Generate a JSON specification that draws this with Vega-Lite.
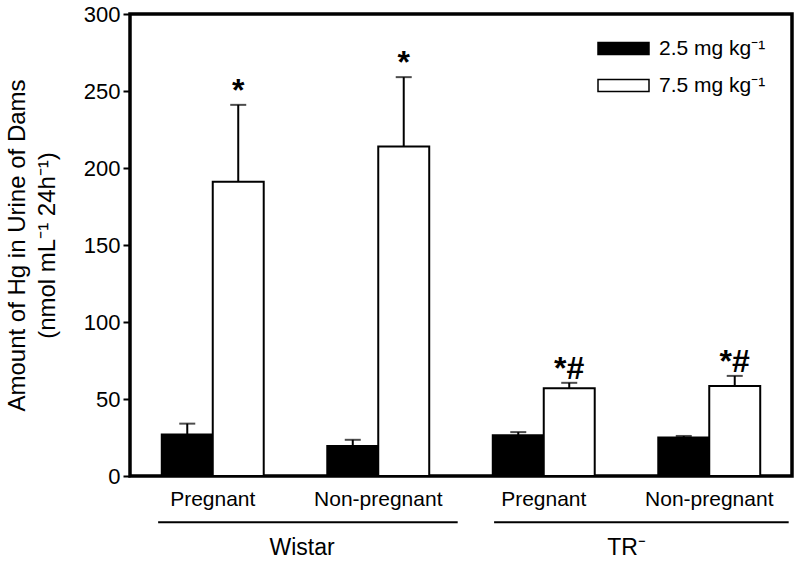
{
  "$schema": "https://vega.github.io/schema/vega-lite/v6.json",
  "autosize": {"type": "none"},
  "width": 662,
  "height": 462,
  "padding": {"left": 130, "top": 14, "right": 8, "bottom": 85},
  "background": "white",
  "config": {
    "font": "Liberation Sans",
    "view": {"stroke": "black", "strokeWidth": 3.5},
    "axis": {"grid": false, "labelColor": "black", "titleColor": "black", "domain": false}
  },
  "datasets": {
    "main": [
      {"group": "Wistar|Pregnant", "dose": "2.5 mg kg⁻¹", "value": 27, "err": 34, "sig": ""},
      {"group": "Wistar|Pregnant", "dose": "7.5 mg kg⁻¹", "value": 191, "err": 241, "sig": "*"},
      {"group": "Wistar|Non-pregnant", "dose": "2.5 mg kg⁻¹", "value": 19.5, "err": 23.5, "sig": ""},
      {"group": "Wistar|Non-pregnant", "dose": "7.5 mg kg⁻¹", "value": 214, "err": 259, "sig": "*"},
      {"group": "TR⁻|Pregnant", "dose": "2.5 mg kg⁻¹", "value": 26.5, "err": 28.5, "sig": ""},
      {"group": "TR⁻|Pregnant", "dose": "7.5 mg kg⁻¹", "value": 57, "err": 60.5, "sig": "*#"},
      {"group": "TR⁻|Non-pregnant", "dose": "2.5 mg kg⁻¹", "value": 25, "err": 26, "sig": ""},
      {"group": "TR⁻|Non-pregnant", "dose": "7.5 mg kg⁻¹", "value": 58.5, "err": 65, "sig": "*#"}
    ],
    "strains": [
      {"strain": "Wistar", "from": 0.17, "to": 1.98, "mid": 1.04},
      {"strain": "TR⁻", "from": 2.2, "to": 3.98, "mid": 3.0}
    ]
  },
  "resolve": {"scale": {"x": "independent"}, "axis": {"x": "independent"}},
  "layer": [
    {
      "data": {"name": "main"},
      "encoding": {
        "x": {
          "field": "group", "type": "nominal", "sort": null,
          "scale": {"paddingInner": 0.384, "paddingOuter": 0.192},
          "axis": {"title": null, "ticks": false, "labelAngle": 0, "labelFontSize": 21, "labelPadding": 12,
                   "labelExpr": "split(datum.label, '|')[1]"}
        },
        "xOffset": {"field": "dose", "type": "nominal", "sort": null}
      },
      "layer": [
        {
          "mark": {"type": "bar", "stroke": "black", "strokeWidth": 2},
          "encoding": {
            "y": {
              "field": "value", "type": "quantitative",
              "scale": {"domain": [0, 300], "nice": false, "zero": true},
              "axis": {
                "values": [0, 50, 100, 150, 200, 250, 300],
                "tickSize": 7, "tickWidth": 2, "tickColor": "black",
                "labelFontSize": 22, "labelPadding": 3,
                "title": ["Amount of Hg in Urine of Dams", "(nmol mL⁻¹ 24h⁻¹)"],
                "titleFontSize": 24, "titleFontWeight": "normal", "titleLineHeight": 30, "titlePadding": 24
              }
            },
            "fill": {
              "field": "dose", "type": "nominal",
              "scale": {"domain": ["2.5 mg kg⁻¹", "7.5 mg kg⁻¹"], "range": ["#000000", "#ffffff"]},
              "legend": {
                "title": null, "orient": "none", "legendX": 467, "legendY": 8, "padding": 0,
                "symbolType": "M-1,-0.24H1V0.24H-1Z", "symbolSize": 2601,
                "symbolStrokeColor": "black", "symbolStrokeWidth": 1.5,
                "labelFontSize": 21, "labelOffset": 9, "labelColor": "black", "rowPadding": -10
              }
            }
          }
        },
        {
          "mark": {"type": "rule", "strokeWidth": 2, "color": "black"},
          "encoding": {
            "y": {"field": "value", "type": "quantitative"},
            "y2": {"field": "err"}
          }
        },
        {
          "mark": {"type": "tick", "color": "black", "thickness": 2, "size": 16},
          "encoding": {"y": {"field": "err", "type": "quantitative"}}
        },
        {
          "mark": {"type": "text", "fontSize": 32, "fontWeight": "bold", "baseline": "alphabetic", "dy": -4, "color": "black"},
          "encoding": {
            "y": {"field": "err", "type": "quantitative"},
            "text": {"field": "sig"}
          }
        }
      ]
    },
    {
      "data": {"name": "strains"},
      "mark": {"type": "rule", "strokeWidth": 2, "color": "black"},
      "encoding": {
        "x": {"field": "from", "type": "quantitative", "scale": {"domain": [0, 4], "nice": false, "zero": false}, "axis": null},
        "x2": {"field": "to"},
        "y": {"datum": -30, "type": "quantitative"}
      }
    },
    {
      "data": {"name": "strains"},
      "mark": {"type": "text", "fontSize": 23, "color": "black", "baseline": "middle"},
      "encoding": {
        "x": {"field": "mid", "type": "quantitative", "scale": {"domain": [0, 4], "nice": false, "zero": false}, "axis": null},
        "y": {"datum": -47, "type": "quantitative"},
        "text": {"field": "strain"}
      }
    }
  ]
}
